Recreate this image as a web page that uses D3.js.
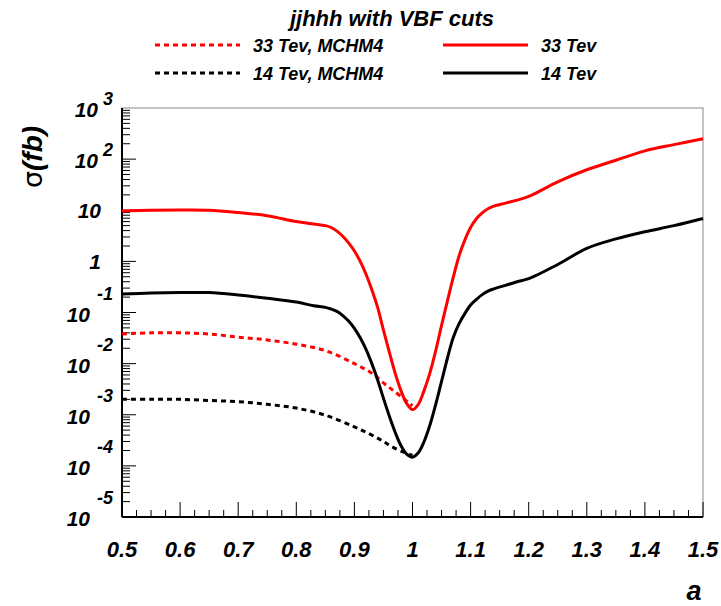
<!DOCTYPE html>
<html>
<head>
<meta charset="utf-8">
<script src="https://cdn.jsdelivr.net/npm/d3@7"></script>
<style>
  body { margin: 0; background: #fff; }
  svg { display: block; font-family: "Liberation Sans", Arial, sans-serif; }
  .lab { font-weight: bold; font-style: italic; }
</style>
</head>
<body>
<div id="chart"></div>
<script>
// alpha values (x) and cross sections in fb for each curve
const aSolid = [0.50, 0.55, 0.60, 0.65, 0.70, 0.75, 0.80, 0.83, 0.85, 0.86, 0.87, 0.88, 0.89, 0.90, 0.91, 0.92, 0.93,
  0.94, 0.95, 0.96, 0.97, 0.98, 0.99, 1.00, 1.01, 1.02, 1.03, 1.04, 1.05, 1.06, 1.07, 1.08, 1.09, 1.10,
  1.11, 1.12, 1.13, 1.14, 1.16, 1.18, 1.20, 1.25, 1.30, 1.35, 1.40, 1.45, 1.50];
const tev33 = [9.7, 10.0, 10.1, 10.0, 9.0, 7.8, 6.0, 5.4, 5.0, 4.6, 3.9, 3.1, 2.3, 1.6, 1.0, 0.56, 0.28,
  0.126, 0.045, 0.017, 0.0066, 0.003, 0.00166, 0.00126, 0.0016, 0.003, 0.0066, 0.018, 0.056, 0.166, 0.48, 1.26, 2.6, 4.6,
  6.8, 8.9, 10.7, 12, 13.8, 15.8, 18.6, 36, 62, 95, 145, 192, 250];
const tev14 = [0.23, 0.24, 0.245, 0.245, 0.22, 0.19, 0.16, 0.135, 0.126, 0.117, 0.105, 0.087, 0.068, 0.049, 0.032, 0.019, 0.01,
  0.0048, 0.0021, 0.00095, 0.00046, 0.00025, 0.00017, 0.000148, 0.00018, 0.0003, 0.00063, 0.0016, 0.0045, 0.0126, 0.032, 0.06, 0.095, 0.14,
  0.18, 0.224, 0.263, 0.29, 0.34, 0.40, 0.46, 0.87, 1.8, 2.75, 3.8, 5.0, 6.9];

const aMchm = [0.50, 0.55, 0.60, 0.65, 0.70, 0.75, 0.80, 0.85, 0.90, 0.93, 0.95, 0.97, 1.00];
const tev33Mchm4 = [0.038, 0.040, 0.040, 0.038, 0.033, 0.029, 0.024, 0.018, 0.010, 0.0065, 0.0042, 0.0028, 0.0015];
const tev14Mchm4 = [0.0020, 0.0020, 0.0020, 0.0019, 0.0018, 0.0016, 0.00135, 0.00098, 0.00058, 0.0004, 0.0003, 0.00022, 0.00016];

const xTicks = [0.5, 0.6, 0.7, 0.8, 0.9, 1, 1.1, 1.2, 1.3, 1.4, 1.5];
const yDecades = [-5, -4, -3, -2, -1, 0, 1, 2, 3];

const series = [
  { name: "33 Tev, MCHM4", a: aMchm, v: tev33Mchm4, color: "#ff0000", dash: "5,4" },
  { name: "14 Tev, MCHM4", a: aMchm, v: tev14Mchm4, color: "#000000", dash: "5,4" },
  { name: "33 Tev", a: aSolid, v: tev33, color: "#ff0000", dash: null },
  { name: "14 Tev", a: aSolid, v: tev14, color: "#000000", dash: null }
];

const W = 721, H = 606;
const pLeft = 122, pRight = 703, pTop = 108, pBottom = 517;

const svg = d3.select("#chart").append("svg")
  .attr("width", W)
  .attr("height", H);

const x = d3.scaleLinear().domain([0.5, 1.5]).range([pLeft, pRight]);
const y = d3.scaleLog().domain([1e-5, 1e3]).range([pBottom, pTop]);

// title
svg.append("text")
  .attr("class", "lab")
  .attr("x", 392).attr("y", 26)
  .attr("text-anchor", "middle")
  .style("font-size", "22px")
  .text("jjhhh with VBF cuts");

// frame
svg.append("rect")
  .attr("x", pLeft).attr("y", pTop)
  .attr("width", pRight - pLeft).attr("height", pBottom - pTop)
  .attr("fill", "none").attr("stroke", "#888").attr("stroke-width", 1);

// y ticks (log, inside)
const yt = svg.append("g");
for (let k = -5; k < 3; k++) {
  for (let m = 1; m <= 9; m++) {
    const v = m * Math.pow(10, k);
    const len = m === 1 ? 14 : 8;
    yt.append("line")
      .attr("x1", pLeft).attr("x2", pLeft + len)
      .attr("y1", y(v)).attr("y2", y(v))
      .attr("stroke", "#000").attr("stroke-width", 1);
  }
}
// x ticks (inside, pointing up)
const xt = svg.append("g");
d3.range(0, 41).forEach(i => {
  const v = 0.5 + i * 0.025;
  const len = i % 4 === 0 ? 15 : 7;
  xt.append("line")
    .attr("x1", x(v)).attr("x2", x(v))
    .attr("y1", pBottom).attr("y2", pBottom - len)
    .attr("stroke", "#000").attr("stroke-width", 1);
});

// axis lines
svg.append("line").attr("x1", pLeft).attr("x2", pLeft).attr("y1", pTop).attr("y2", pBottom)
  .attr("stroke", "#000").attr("stroke-width", 2);
svg.append("line").attr("x1", pLeft).attr("x2", pRight).attr("y1", pBottom).attr("y2", pBottom)
  .attr("stroke", "#000").attr("stroke-width", 2);

// y tick labels
yDecades.forEach(k => {
  const yy = y(Math.pow(10, k));
  const g = svg.append("g").attr("class", "lab");
  if (k === 0 || k === 1) {
    g.append("text").attr("x", 101).attr("y", yy + 8).attr("text-anchor", "end")
      .style("font-size", "21px")
      .text(k === 0 ? "1" : "10");
  } else {
    g.append("text").attr("x", 113 - (k < 0 ? 20 : 12) - 3).attr("y", yy + 9).attr("text-anchor", "end")
      .style("font-size", "21px").text("10");
    g.append("text").attr("x", 113).attr("y", yy - (k < 0 ? 13 : 3)).attr("text-anchor", "end")
      .style("font-size", "18px").text(String(k));
  }
});

// x tick labels
xTicks.forEach(v => {
  svg.append("text").attr("class", "lab")
    .attr("x", x(v)).attr("y", 557)
    .attr("text-anchor", "middle")
    .style("font-size", "22px")
    .text(d3.format("~g")(v));
});

// axis titles
svg.append("text").attr("class", "lab")
  .attr("x", 694).attr("y", 600)
  .attr("text-anchor", "middle")
  .style("font-size", "27px")
  .text("a");

const yl = svg.append("text")
  .attr("transform", "translate(42,157) rotate(-90)")
  .attr("text-anchor", "middle")
  .style("font-size", "28px");
yl.append("tspan").style("font-family", "DejaVu Sans").style("font-size", "27px").text("σ");
yl.append("tspan").attr("class", "lab").text("(fb)");

// curves
const line = d3.line()
  .x(d => x(d[0]))
  .y(d => y(d[1]))
  .curve(d3.curveCatmullRom.alpha(0.5));

const plot = svg.append("g");
series.forEach(s => {
  plot.append("path")
    .datum(s.a.map((a, i) => [a, s.v[i]]))
    .attr("d", line)
    .attr("fill", "none")
    .attr("stroke", s.color)
    .attr("stroke-width", 3)
    .attr("stroke-dasharray", s.dash);
});

// legend
const legendPos = [
  { lx: 155, ty: 45 }, { lx: 155, ty: 73 }, { lx: 443, ty: 45 }, { lx: 443, ty: 73 }
];
series.forEach((s, i) => {
  const p = legendPos[i];
  svg.append("line")
    .attr("x1", p.lx).attr("x2", p.lx + 85)
    .attr("y1", p.ty).attr("y2", p.ty)
    .attr("stroke", s.color).attr("stroke-width", 3)
    .attr("stroke-dasharray", s.dash);
  svg.append("text").attr("class", "lab")
    .attr("x", p.lx + 98).attr("y", p.ty + 7)
    .style("font-size", "18px")
    .text(s.name);
});
</script>
</body>
</html>
